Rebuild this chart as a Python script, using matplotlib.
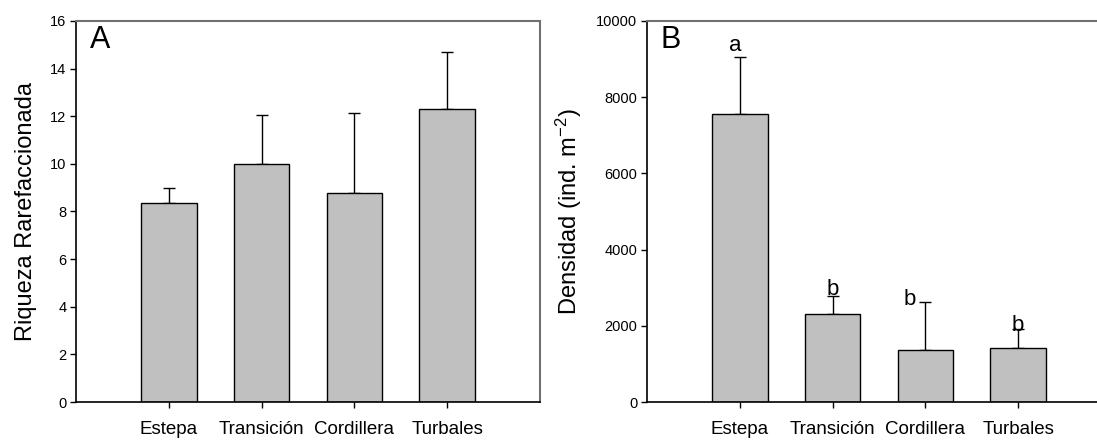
import numpy as np
import matplotlib
matplotlib.use('Agg')
from matplotlib import pyplot as plt

plt.rcParams['font.family'] = ['Liberation Sans', 'DejaVu Sans']
plt.rcParams['mathtext.default'] = 'regular'

sites = ['Estepa', 'Transición', 'Cordillera', 'Turbales']
riqueza = [8.36, 10.0, 8.78, 12.29]
riqueza_err = [0.63, 2.05, 3.37, 2.41]
densidad = [7546, 2322, 1376, 1429]
densidad_err = [1507, 465, 1236, 482]
letters = ['a', 'b', 'b', 'b']
letter_y = [9360, 2940, 2700, 2000]
letter_dx = [-0.05, 0.0, -0.17, 0.0]

fig = plt.figure(figsize=(10.97, 4.4), dpi=100)
ax0 = fig.add_axes([76 / 1097, 38 / 440, 464 / 1097, 381 / 440])
ax1 = fig.add_axes([647 / 1097, 38 / 440, 464 / 1097, 381 / 440])

x = np.arange(1, len(sites) + 1)

def style(ax):
    ax.set_xlim(0, 5)
    ax.set_xticks(x)
    ax.set_xticklabels(sites, fontsize=13.5)
    ax.tick_params(axis='x', length=4, width=1, pad=10)
    ax.tick_params(axis='y', length=4, width=1, labelsize=10.5, pad=3)
    for s in ['top', 'right']:
        ax.spines[s].set_color('#707070')
        ax.spines[s].set_linewidth(1.5)
    for s in ['left', 'bottom']:
        ax.spines[s].set_linewidth(1.2)

# A: rarefied richness
ax0.bar(x, riqueza, width=0.6, color='#c0c0c0', edgecolor='black', linewidth=1, zorder=2)
ax0.errorbar(x, riqueza, yerr=[np.zeros(4), riqueza_err], fmt='none', ecolor='black',
             elinewidth=1, capsize=4, capthick=1, zorder=1)
ax0.set_ylim(0, 16)
ax0.set_yticks(np.arange(0, 17, 2))
ax0.set_ylabel('Riqueza Rarefaccionada', fontsize=17, labelpad=9)
ax0.text(0.03, 0.95, 'A', transform=ax0.transAxes, fontsize=22, va='center')
style(ax0)

# B: density
ax1.bar(x, densidad, width=0.6, color='#c0c0c0', edgecolor='black', linewidth=1, zorder=2)
ax1.errorbar(x, densidad, yerr=[np.zeros(4), densidad_err], fmt='none', ecolor='black',
             elinewidth=1, capsize=4, capthick=1, zorder=1)
ax1.set_ylim(0, 10000)
ax1.set_yticks(np.arange(0, 10001, 2000))
ax1.set_ylabel('Densidad (ind. m$^{-2}$)', fontsize=17, labelpad=9)
ax1.text(0.03, 0.95, 'B', transform=ax1.transAxes, fontsize=22, va='center')
for xi, lt, ly, dx in zip(x, letters, letter_y, letter_dx):
    ax1.text(xi + dx, ly, lt, fontsize=16, ha='center', va='center', zorder=3)
style(ax1)

fig.savefig('out.png', dpi=100)
